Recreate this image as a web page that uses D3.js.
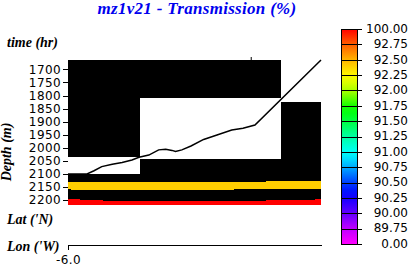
<!DOCTYPE html>
<html>
<head>
<meta charset="utf-8">
<script src="https://cdn.jsdelivr.net/npm/d3@7"></script>
<style>
body { margin: 0; background: #fff; }
svg { display: block; }
.lab { font-family: "Liberation Serif", serif; font-weight: bold; font-style: italic; font-size: 14px; fill: #000; }
.num, .tick text { font-family: "DejaVu Sans", sans-serif; font-size: 12px; fill: #000; }
.tick text { letter-spacing: 0.4px; }
</style>
</head>
<body>
<svg class="svg" width="409" height="266"></svg>
<script>
const depthTicks = [1700, 1750, 1800, 1850, 1900, 1950, 2000, 2050, 2100, 2150, 2200];
const timeTicks = [2.6];
const lonTicks = [-6.0];
const legendLabels = ["100.00", "92.75", "92.50", "92.25", "92.00", "91.75", "91.50",
  "91.25", "91.00", "90.75", "90.50", "90.25", "90.00", "89.75", "0.00"];

// [t0, t1, depth top, depth bottom] -- not sampled (white)
const gaps = [
  [0, 1.02, 2035, 2099],
  [1.02, 3.03, 1811, 2043],
  [3.03, 3.6, 1664, 1824],
];
// [t0, t1, depth top, depth bottom, transmission]
const bandMid = [
  [0, 0.04, 2130, 2158, 92.4],
  [0.04, 2.36, 2130, 2162, 92.4],
  [2.36, 2.82, 2130, 2158, 92.4],
  [2.82, 3.6, 2126, 2158, 92.4],
];
const bandDeep = [
  [0, 0.17, 2195, 2219, 100],
  [0.17, 0.5, 2200, 2219, 100],
  [0.5, 2.82, 2204, 2219, 100],
  [2.82, 3.51, 2199, 2219, 100],
  [3.51, 3.6, 2195, 2219, 100],
];
// instrument track
const trackTime = [0, 0.27, 0.37, 0.48, 0.63, 0.77, 0.91, 1.01, 1.15, 1.29, 1.39, 1.48, 1.53,
  1.62, 1.75, 1.93, 2.12, 2.33, 2.49, 2.66, 3.6];
const trackDepth = [2100, 2100, 2088, 2072, 2063, 2056, 2047, 2036, 2028, 2008, 2006, 2010, 2014,
  2008, 1993, 1968, 1951, 1932, 1925, 1913, 1664];

const svg = d3.select(".svg");

const x = d3.scaleLinear().domain([0, 3.6]).range([68, 321]);
const y = d3.scaleLinear().domain([1664, 2219]).range([60, 205]);

// colour: value -> legend position -> hue
const legendValues = legendLabels.map(Number);
const valueToIdx = d3.scaleLinear().domain(legendValues).range(d3.range(legendValues.length));
const idxToHue = d3.scaleLinear().domain(d3.range(15))
  .range([0, 22, 42, 58, 80, 115, 135, 158, 178, 200, 225, 245, 263, 285, 300]);
const colour = v => d3.hsl(idxToHue(valueToIdx(v)), 1, 0.5).formatHex();

// title
svg.append("text").attr("class", "lab")
  .attr("x", 197).attr("y", 14).attr("text-anchor", "middle")
  .style("font-size", "17px").style("letter-spacing", "0.3px").style("fill", "#0000ee")
  .text("mz1v21 - Transmission (%)");

// plot background (no data)
const plot = svg.append("g").attr("shape-rendering", "crispEdges");
plot.append("rect")
  .attr("x", x.range()[0]).attr("y", y.range()[0])
  .attr("width", x.range()[1] - x.range()[0])
  .attr("height", y.range()[1] - y.range()[0])
  .attr("fill", "#000");

const cell = sel => sel
  .attr("x", d => Math.round(x(d[0])))
  .attr("width", d => Math.round(x(d[1])) - Math.round(x(d[0])))
  .attr("y", d => Math.round(y(d[2])))
  .attr("height", d => Math.round(y(d[3])) - Math.round(y(d[2])));

plot.selectAll(".gap").data(gaps).join("rect").attr("class", "gap").call(cell).attr("fill", "#fff");
plot.selectAll(".band").data(bandMid.concat(bandDeep)).join("rect").attr("class", "band")
  .call(cell).attr("fill", d => colour(d[4]));

// track
const line = d3.line().x(d => x(d[0])).y(d => y(d[1]));
svg.append("path")
  .attr("d", line(d3.zip(trackTime, trackDepth)))
  .attr("fill", "none").attr("stroke", "#000").attr("stroke-width", 1.5);

// depth axis
const yAxis = svg.append("g").attr("transform", "translate(68,0)")
  .call(d3.axisLeft(y).tickValues(depthTicks).tickSize(5).tickPadding(2).tickSizeOuter(0)
    .tickFormat(d => String(d)));
yAxis.select(".domain").remove();
yAxis.selectAll(".tick line").attr("shape-rendering", "crispEdges");

// time axis (tick only)
const tAxis = svg.append("g").attr("transform", "translate(0,60)")
  .call(d3.axisTop(x).tickValues(timeTicks).tickSize(3).tickFormat(""));
tAxis.select(".domain").remove();

// lon axis
const lon = d3.scaleLinear().domain([-6.0, -5.0]).range([68, 321]);
const lonAxis = svg.append("g").attr("transform", "translate(0,244.5)")
  .call(d3.axisBottom(lon).tickValues(lonTicks).tickSize(5).tickPadding(6).tickSizeOuter(0)
    .tickFormat(d => d.toFixed(1)));
lonAxis.attr("shape-rendering", "crispEdges");

// axis labels
svg.append("text").attr("class", "lab").attr("x", 7).attr("y", 47).text("time (hr)");
svg.append("text").attr("class", "lab").attr("x", 7).attr("y", 224).text("Lat ('N)");
svg.append("text").attr("class", "lab").attr("x", 7).attr("y", 251).text("Lon ('W)");
svg.append("text").attr("class", "lab")
  .attr("transform", "translate(11,152) rotate(-90)").attr("text-anchor", "middle")
  .text("Depth (m)");

// colour bar
const ly = d3.scalePoint().domain(legendLabels).range([29, 244]);
const grad = svg.append("defs").append("linearGradient").attr("id", "cbar")
  .attr("x1", 0).attr("y1", 0).attr("x2", 0).attr("y2", 1);
grad.selectAll("stop").data(d3.range(0, 14.01, 0.5)).join("stop")
  .attr("offset", d => d / 14)
  .attr("stop-color", d => d3.hsl(idxToHue(d), 1, 0.5).formatHex());

const bar = svg.append("g").attr("shape-rendering", "crispEdges");
bar.append("rect").attr("x", 341).attr("y", ly.range()[0])
  .attr("width", 16).attr("height", ly.range()[1] - ly.range()[0])
  .attr("fill", "url(#cbar)").attr("stroke", "#000");
bar.selectAll("line").data(legendLabels).join("line")
  .attr("x1", 341).attr("x2", 362)
  .attr("y1", d => Math.round(ly(d)) + 0.5).attr("y2", d => Math.round(ly(d)) + 0.5)
  .attr("stroke", "#000");
svg.selectAll(".leg").data(legendLabels).join("text").attr("class", "num leg")
  .attr("x", 408).attr("y", d => ly(d)).attr("dy", "0.32em")
  .attr("text-anchor", "end").text(d => d);
</script>
</body>
</html>
